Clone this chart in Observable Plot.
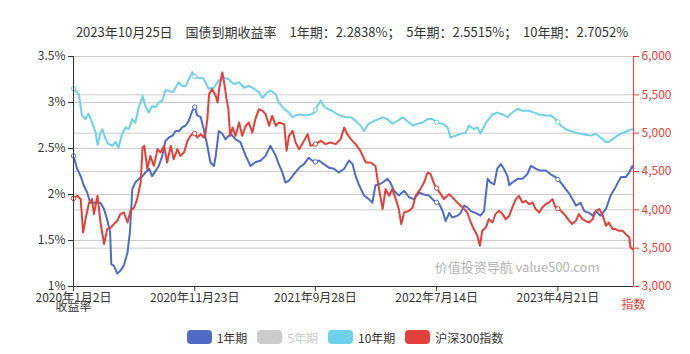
<!DOCTYPE html>
<html>
<head>
<meta charset="utf-8">
<script src="https://cdn.jsdelivr.net/npm/d3@7"></script>
<script src="https://cdn.jsdelivr.net/npm/@observablehq/plot@0.6"></script>
<style>
  html, body { margin: 0; padding: 0; background: #fff; }
  body { width: 690px; height: 354px; overflow: hidden; font-family: "Noto Sans CJK SC", "Noto Sans", sans-serif; }
  #title { height: 44px; box-sizing: border-box; padding-top: 23px; text-align: center; font-size: 13px; color: #333; white-space: pre; padding-left: 14px; line-height: 18px; }
  #legend { display: flex; justify-content: center; align-items: center; gap: 10px; height: 34px; font-size: 12px; color: #333; }
  .item { display: flex; align-items: center; gap: 5px; }
  .sw { width: 25px; height: 14px; border-radius: 4px; display: inline-block; }
  svg { display: block; }
</style>
</head>
<body>
<div id="title"></div>
<div id="chart"></div>
<div id="legend"></div>
<script>
// ---- data ----
const titleText = "2023年10月25日　国债到期收益率　1年期：2.2838%；  5年期：2.5515%；  10年期：2.7052%";
const seriesNames = ["1年期", "5年期", "10年期", "沪深300指数"];
const seriesColors = ["#4f6bc6", "#cccccc", "#6fd0ea", "#e2403a"];
const xTickIdx = [0, 202, 403, 605, 807];
const xTickLabels = ["2020年1月2日", "2020年11月23日", "2021年9月28日", "2022年7月14日", "2023年4月21日"];
const lastIdx = 933;
const leftTicks = [1, 1.5, 2, 2.5, 3, 3.5];
const rightTicks = [3000, 3500, 4000, 4500, 5000, 5500, 6000];

// [trading-day index, yield %]
const yield10Y = [[0,3.15],[9,3.09],[14,2.86],[20,2.82],[25,2.88],[31,2.78],[37,2.67],[40,2.54],[45,2.67],[48,2.71],[53,2.61],[58,2.55],[65,2.53],[70,2.57],[75,2.51],[81,2.66],[87,2.73],[92,2.71],[98,2.82],[103,2.78],[108,2.93],[115,3.07],[120,2.96],[125,2.89],[131,2.96],[137,2.95],[142,3.00],[148,3.02],[153,3.13],[158,3.13],[165,3.11],[170,3.16],[175,3.22],[181,3.18],[187,3.18],[192,3.25],[198,3.33],[203,3.27],[208,3.27],[215,3.27],[220,3.22],[225,3.15],[231,3.16],[234,3.16],[242,3.24],[251,3.27],[259,3.25],[267,3.20],[276,3.22],[284,3.16],[292,3.18],[301,3.15],[309,3.11],[315,3.05],[323,3.11],[328,3.13],[337,3.09],[342,3.00],[351,2.93],[359,2.89],[365,2.84],[370,2.86],[378,2.87],[387,2.86],[395,2.87],[401,2.89],[406,2.96],[412,3.02],[417,2.96],[423,2.93],[431,2.91],[440,2.87],[445,2.86],[453,2.84],[462,2.84],[470,2.80],[478,2.75],[484,2.69],[492,2.77],[501,2.80],[509,2.82],[515,2.84],[523,2.82],[531,2.77],[540,2.80],[548,2.84],[556,2.80],[565,2.75],[573,2.77],[581,2.78],[590,2.82],[598,2.82],[606,2.78],[615,2.77],[623,2.73],[628,2.62],[637,2.64],[645,2.66],[653,2.67],[659,2.75],[667,2.71],[673,2.73],[678,2.66],[687,2.78],[692,2.82],[698,2.87],[706,2.89],[715,2.87],[723,2.84],[731,2.89],[740,2.93],[748,2.91],[759,2.91],[767,2.89],[776,2.87],[784,2.86],[795,2.86],[803,2.82],[812,2.75],[820,2.71],[828,2.69],[837,2.67],[845,2.66],[853,2.65],[862,2.64],[870,2.66],[878,2.62],[887,2.57],[892,2.57],[898,2.60],[906,2.64],[915,2.67],[923,2.69],[931,2.71],[933,2.7052]];

const yield1Y = [[0,2.42],[6,2.28],[12,2.20],[17,2.10],[23,2.02],[28,1.91],[34,1.91],[40,1.91],[45,1.91],[51,1.84],[56,1.73],[61,1.59],[63,1.24],[67,1.23],[73,1.14],[78,1.17],[84,1.23],[90,1.37],[94,1.59],[98,2.06],[103,2.13],[109,2.17],[115,2.20],[120,2.24],[126,2.28],[131,2.20],[137,2.26],[142,2.31],[148,2.42],[153,2.58],[159,2.62],[165,2.64],[170,2.69],[176,2.69],[181,2.73],[187,2.75],[192,2.80],[198,2.91],[202,2.95],[206,2.86],[212,2.84],[217,2.71],[223,2.53],[228,2.35],[234,2.31],[237,2.42],[242,2.69],[248,2.66],[253,2.60],[262,2.66],[270,2.60],[278,2.57],[287,2.42],[295,2.31],[303,2.35],[312,2.37],[320,2.42],[328,2.53],[337,2.42],[342,2.33],[348,2.24],[353,2.13],[359,2.15],[367,2.22],[376,2.29],[384,2.33],[392,2.40],[401,2.35],[409,2.37],[417,2.33],[426,2.29],[434,2.28],[442,2.24],[451,2.28],[459,2.37],[465,2.33],[470,2.20],[476,2.10],[484,1.99],[492,1.95],[498,1.91],[503,2.10],[509,2.11],[515,2.13],[523,2.17],[528,2.13],[534,2.04],[542,1.99],[551,2.04],[559,1.97],[567,1.95],[576,2.02],[584,2.00],[592,1.99],[601,1.93],[609,1.90],[615,1.82],[620,1.71],[626,1.80],[631,1.75],[640,1.77],[645,1.80],[651,1.88],[656,1.86],[662,1.82],[670,1.80],[678,1.77],[684,1.82],[690,2.17],[695,2.13],[701,2.11],[706,2.28],[712,2.33],[717,2.28],[723,2.20],[726,2.10],[731,2.13],[740,2.17],[748,2.17],[756,2.22],[762,2.31],[770,2.28],[778,2.26],[787,2.26],[795,2.22],[803,2.19],[812,2.13],[820,2.06],[828,1.99],[837,1.88],[845,1.91],[851,1.82],[859,1.80],[865,1.77],[870,1.82],[878,1.77],[887,1.84],[895,1.99],[903,2.08],[912,2.19],[920,2.19],[926,2.24],[931,2.31],[933,2.2838]];

// [trading-day index, CSI 300 close]
const csi300 = [[0,4148],[6,4183],[12,4140],[16,3704],[20,3879],[26,4095],[31,4140],[34,3944],[40,4183],[45,3835],[51,3553],[56,3749],[62,3769],[67,3814],[73,3857],[78,3944],[84,3965],[90,3835],[95,3987],[101,4030],[106,4140],[112,4356],[115,4813],[118,4835],[123,4531],[128,4704],[134,4574],[140,4792],[145,4747],[151,4835],[156,4617],[162,4835],[167,4661],[173,4792],[178,4704],[184,4747],[190,4900],[195,4965],[201,5008],[206,4943],[212,4987],[217,4943],[220,5008],[223,5183],[226,5513],[231,5574],[237,5487],[240,5399],[243,5595],[248,5791],[251,5660],[255,5444],[258,5313],[261,4965],[265,5073],[270,4965],[276,5139],[281,4965],[287,5096],[292,5139],[298,5008],[303,5183],[309,5313],[315,5291],[320,5248],[326,5096],[331,5226],[337,5096],[342,5139],[351,5118],[355,4770],[359,4965],[365,5030],[370,4878],[376,4792],[381,4857],[390,4987],[395,4835],[403,4857],[412,4900],[420,4857],[428,4878],[437,4857],[445,4922],[451,5073],[456,4991],[462,4922],[470,4857],[478,4770],[487,4617],[495,4617],[503,4574],[509,4270],[515,4009],[520,4270],[526,4183],[531,4270],[537,4140],[542,4009],[546,3814],[551,3965],[559,3987],[565,4030],[570,4183],[578,4270],[584,4356],[590,4487],[595,4466],[601,4335],[606,4270],[612,4205],[617,4140],[626,4205],[634,4140],[642,4075],[651,4009],[656,3965],[662,3835],[667,3749],[673,3661],[677,3531],[681,3726],[687,3769],[692,3879],[698,3835],[703,3944],[709,3987],[715,3944],[720,3879],[726,3922],[731,4030],[737,4140],[742,4183],[748,4095],[753,4118],[759,4075],[765,4095],[770,4009],[776,3965],[781,4030],[787,4075],[792,4095],[798,4140],[803,4030],[809,4009],[815,3965],[820,3922],[826,3857],[831,3814],[837,3857],[842,3944],[848,3879],[853,3857],[859,3835],[865,3879],[870,3987],[876,4009],[881,3944],[887,3792],[892,3835],[898,3749],[903,3749],[909,3726],[915,3726],[920,3683],[926,3639],[928,3509],[932,3488]];

// ---- build ----
const idxToPct = v => 1 + (v - 3000) / 1200; // right axis 3000..6000 -> 1..3.5
const toRows = (arr, conv = d => d) => arr.map(([i, v]) => ({i, v: conv(v)}));
const r1 = toRows(yield1Y), r10 = toRows(yield10Y), rc = toRows(csi300, idxToPct);

function valueAt(rows, i) {
  for (let k = 0; k < rows.length - 1; k++) {
    if (rows[k].i <= i && rows[k + 1].i >= i) {
      const t = (i - rows[k].i) / ((rows[k + 1].i - rows[k].i) || 1);
      return rows[k].v + t * (rows[k + 1].v - rows[k].v);
    }
  }
  return rows[rows.length - 1].v;
}
const symbols = [];
[[r1, seriesColors[0]], [r10, seriesColors[2]], [rc, seriesColors[3]]].forEach(([rows, c]) => {
  xTickIdx.forEach(i => symbols.push({i, v: valueAt(rows, i), c}));
});

const fmtPct = d => (Number.isInteger(d) ? d : d.toFixed(1)) + "%";
const rightPct = rightTicks.map(idxToPct);
const fmtRight = d => d3.format(",")(Math.round(3000 + (d - 1) * 1200));
const red = "#e2403a";

document.getElementById("title").textContent = titleText;

const chart = Plot.plot({
  width: 690,
  height: 276,
  marginLeft: 73,
  marginRight: 57,
  marginTop: 12,
  marginBottom: 34,
  style: {fontFamily: '"Noto Sans CJK SC", "Noto Sans", sans-serif', fontSize: "12px", color: "#333", background: "#fff"},
  x: {domain: [0, lastIdx], axis: null},
  y: {domain: [1, 3.5], axis: null},
  marks: [
    Plot.gridY(leftTicks, {stroke: "#cccccc", strokeOpacity: 1, strokeWidth: 1}),
    Plot.gridY(rightPct, {stroke: "#cccccc", strokeOpacity: 1, strokeWidth: 1}),
    Plot.text(["价值投资导航 value500.com"], {frameAnchor: "bottom-right", dx: -34, dy: -15, textAnchor: "end", lineAnchor: "bottom", fill: "#b4b4b4", fontSize: 13}),
    Plot.line(r1, {x: "i", y: "v", stroke: seriesColors[0], strokeWidth: 2, curve: "linear"}),
    Plot.line(r10, {x: "i", y: "v", stroke: seriesColors[2], strokeWidth: 2, curve: "linear"}),
    Plot.line(rc, {x: "i", y: "v", stroke: seriesColors[3], strokeWidth: 2, curve: "linear"}),
    Plot.dot(symbols, {x: "i", y: "v", r: 2.2, fill: "#fff", stroke: "c", strokeWidth: 1}),
    Plot.ruleY([1], {stroke: "#333", strokeWidth: 1}),
    Plot.ruleX([0], {stroke: "#333", strokeWidth: 1}),
    Plot.ruleX([lastIdx], {stroke: red, strokeWidth: 1}),
    Plot.axisY(leftTicks, {anchor: "left", tickFormat: fmtPct, tickSize: 5, tickPadding: 3, stroke: "#333", fill: "#333", fontSize: 12, label: null}),
    Plot.axisY(rightPct, {anchor: "right", tickFormat: fmtRight, tickSize: 5, tickPadding: 3, stroke: red, fill: red, fontSize: 12, label: null}),
    Plot.axisX(xTickIdx, {anchor: "bottom", tickFormat: (d, k) => xTickLabels[k], tickSize: 5, tickPadding: 2, stroke: "#333", fill: "#333", fontSize: 12, label: null}),
    Plot.text(["收益率"], {x: 0, y: 1, dy: 21, fill: "#333", fontSize: 12, lineAnchor: "middle"}),
    Plot.text(["指数"], {x: lastIdx, y: 1, dy: 19, fill: red, fontSize: 12, lineAnchor: "middle"})
  ]
});
document.getElementById("chart").appendChild(chart);

const legend = document.getElementById("legend");
seriesNames.forEach((n, k) => {
  const it = document.createElement("div");
  it.className = "item";
  const sw = document.createElement("span");
  sw.className = "sw";
  sw.style.background = seriesColors[k];
  const tx = document.createElement("span");
  tx.textContent = n;
  if (k === 1) tx.style.color = "#cccccc";
  it.appendChild(sw); it.appendChild(tx);
  legend.appendChild(it);
});
</script>
</body>
</html>
